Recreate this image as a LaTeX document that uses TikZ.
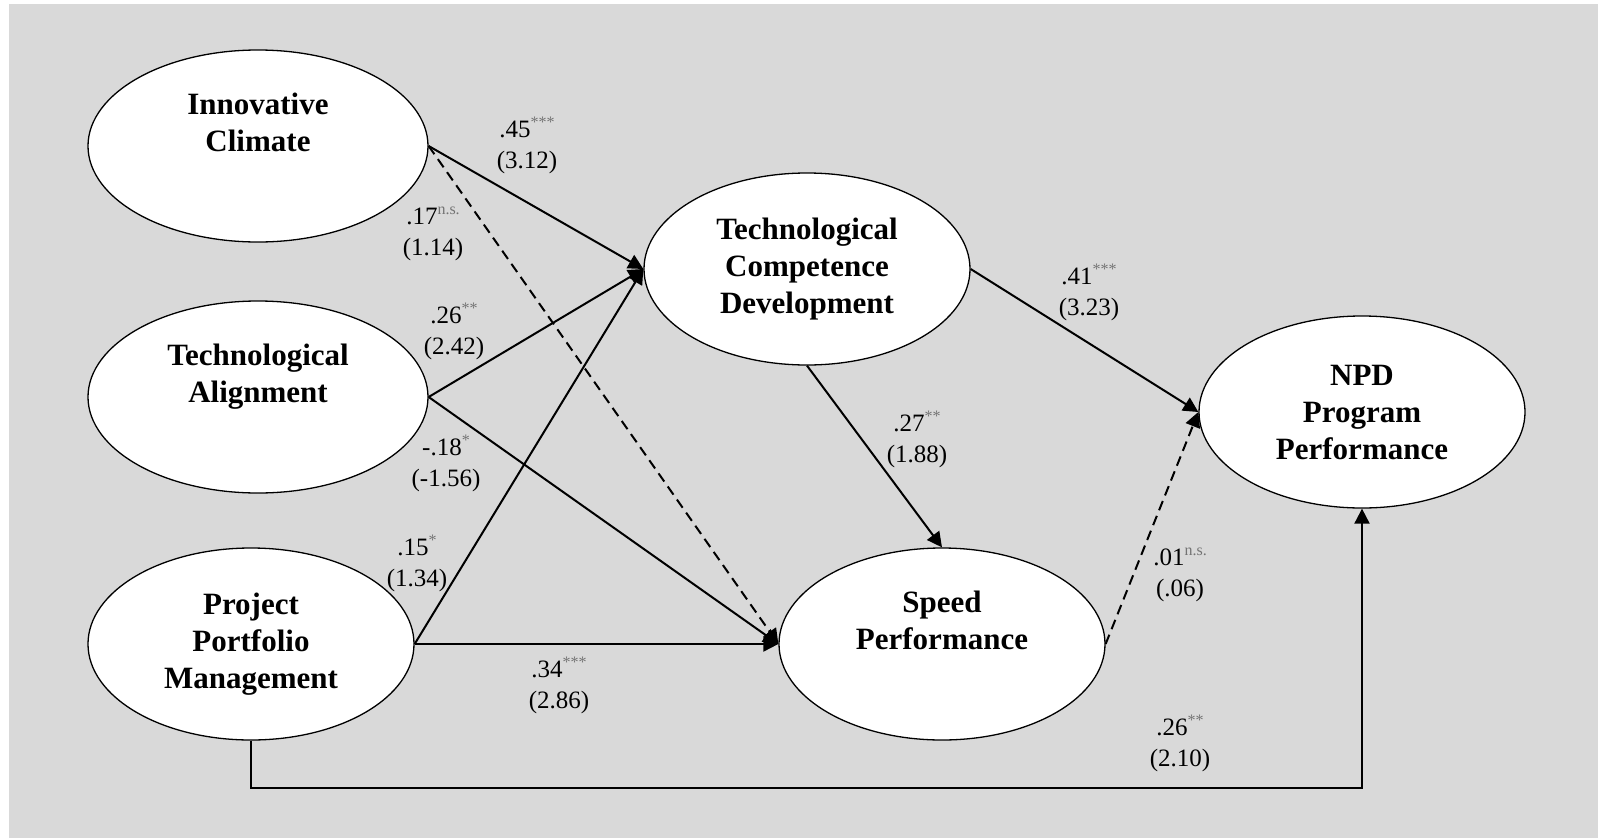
\documentclass[tikz,border=0pt]{standalone}
\usepackage{fontspec}
\setmainfont{Liberation Serif}
\usepackage{tikz}
\usetikzlibrary{shapes.geometric, arrows.meta}
\definecolor{bggray}{HTML}{D9D9D9}
\newcommand{\signif}[1]{\raisebox{10pt}{\fontsize{16}{16}\selectfont\color{black!55}#1}}
\tikzstyle{construct} = [ellipse, draw, fill=white, line width=1.3pt, minimum width=326pt, minimum height=192pt, inner sep=0pt, align=center, font=\fontsize{31}{37}\selectfont\bfseries]
\tikzstyle{coef}      = [align=center, inner sep=0pt, font=\fontsize{25}{31}\selectfont]
\tikzstyle{arrow}     = [line width=2pt, -{Triangle[length=15pt,width=15pt]}]
\tikzstyle{nsarrow}   = [arrow, dash pattern=on 10pt off 6pt]

\begin{document}
\begin{tikzpicture}[x=1pt, y=-1pt]
  \useasboundingbox (0,0) rectangle (1598,838);
  \fill[bggray] (9,4) rectangle (1598,838);

  %antecedents on the left
  \node[construct, minimum width=340pt] (ic) at (258,146) {Innovative\\Climate\\\strut};
  \node[construct, minimum width=340pt] (ta) at (258,397) {Technological\\Alignment\\\strut};
  \node[construct] (ppm) at (251,644) {Project\\Portfolio\\Management};

  %mediators and outcome
  \node[construct] (tcd) at (807,269) {Technological\\Competence\\Development};
  \node[construct] (sp) at (942,644) {Speed\\Performance\\\strut};
  \node[construct] (npd) at (1362,412) {NPD\\Program\\Performance};

  %paths
  \foreach \from/\to in {ic/tcd, ta/tcd, ppm/tcd, ta/sp, ppm/sp}{
    \draw[arrow] (\from.east) -- (\to.west);
  }
  \draw[nsarrow] (ic.east) -- (sp.west);
  \draw[arrow] (tcd.south) -- (sp.north);
  \draw[arrow] (tcd.east) -- (npd.west);
  \draw[nsarrow] (sp.east) -- (npd.west);
  \draw[arrow] (ppm.south) -- ++(0,47) -| (npd.south);

  %coefficients (t-values)
  \node[coef] (c1) at (527,145) {.45\signif{***}\\(3.12)};
  \node[coef] (c2) at (433,234) {.17\signif{n.s.}\\(1.14)};
  \node[coef] (c3) at (454,331) {.26\signif{**}\\(2.42)};
  \node[coef] (c4) at (446,463) {-.18\signif{*}\\(-1.56)};
  \node[coef] (c5) at (417,563) {.15\signif{*}\\(1.34)};
  \node[coef] (c6) at (559,685) {.34\signif{***}\\(2.86)};
  \node[coef] (c7) at (917,439) {.27\signif{**}\\(1.88)};
  \node[coef] (c8) at (1089,292) {.41\signif{***}\\(3.23)};
  \node[coef] (c9) at (1180,575) {.01\signif{n.s.}\\(.06)};
  \node[coef] (c10) at (1180,743) {.26\signif{**}\\(2.10)};
\end{tikzpicture}
\end{document}
